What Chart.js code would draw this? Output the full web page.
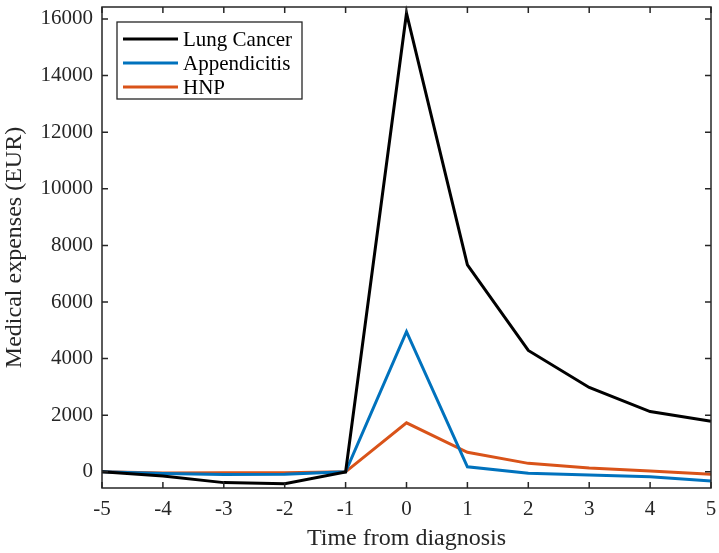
<!DOCTYPE html>
<html lang="en">
<head>
    <meta charset="UTF-8">
    <title>Medical expenses around diagnosis</title>
    <script src="https://cdn.jsdelivr.net/npm/chart.js"></script>
    <style>
        html, body { margin: 0; padding: 0; background: #fff; }
        #wrap { width: 719px; height: 553px; }
    </style>
</head>
<body>
    <div id="wrap"><canvas id="chart" width="719" height="553"></canvas></div>

    <script>
        // data
        const years = [-5, -4, -3, -2, -1, 0, 1, 2, 3, 4, 5];
        const lungCancer = [0, -150, -380, -420, 0, 16200, 7310, 4290, 2980, 2130, 1790];
        const appendicitis = [0, -60, -90, -80, 0, 4950, 180, -50, -110, -170, -320];
        const hnp = [0, -40, -30, -30, 0, 1730, 690, 300, 140, 30, -80];
        const seriesNames = ['Lung Cancer', 'Appendicitis', 'HNP'];
        const seriesColors = ['#000000', '#0072BD', '#D95319'];
        const xTicks = [-5, -4, -3, -2, -1, 0, 1, 2, 3, 4, 5];
        const yTicks = [0, 2000, 4000, 6000, 8000, 10000, 12000, 14000, 16000];

        const serif = '"Liberation Serif", "Times New Roman", serif';
        const axisColor = '#262626';

        function toPoints(vals) {
            return years.map((x, i) => ({ x: x, y: vals[i] }));
        }

        // matlab-like box, inward ticks and legend inside the axes
        const matlabBox = {
            id: 'matlabBox',
            afterDraw(chart) {
                const ctx = chart.ctx;
                const a = chart.chartArea;
                const xs = chart.scales.x, ys = chart.scales.y;
                const len = 6;
                ctx.save();
                ctx.strokeStyle = axisColor;
                ctx.lineWidth = 1.5;
                ctx.strokeRect(a.left, a.top, a.right - a.left, a.bottom - a.top);
                ctx.beginPath();
                xTicks.forEach(v => {
                    const px = xs.getPixelForValue(v);
                    ctx.moveTo(px, a.bottom); ctx.lineTo(px, a.bottom - len);
                    ctx.moveTo(px, a.top); ctx.lineTo(px, a.top + len);
                });
                yTicks.forEach(v => {
                    const py = ys.getPixelForValue(v);
                    ctx.moveTo(a.left, py); ctx.lineTo(a.left + len, py);
                    ctx.moveTo(a.right, py); ctx.lineTo(a.right - len, py);
                });
                ctx.stroke();

                // legend
                const lx = a.left + 15, ly = a.top + 15;
                const lw = 185, lh = 77;
                ctx.fillStyle = '#fff';
                ctx.fillRect(lx, ly, lw, lh);
                ctx.strokeStyle = axisColor;
                ctx.lineWidth = 1.3;
                ctx.strokeRect(lx, ly, lw, lh);
                ctx.font = '21px ' + serif;
                ctx.textBaseline = 'middle';
                chart.data.datasets.forEach((ds, i) => {
                    const cy = ly + 17 + i * 24;
                    ctx.strokeStyle = ds.borderColor;
                    ctx.lineWidth = 3;
                    ctx.beginPath();
                    ctx.moveTo(lx + 6, cy);
                    ctx.lineTo(lx + 61, cy);
                    ctx.stroke();
                    ctx.fillStyle = '#000';
                    ctx.fillText(ds.label, lx + 66, cy + 1);
                });
                ctx.restore();
            }
        };

        const datasets = [lungCancer, appendicitis, hnp].map((vals, i) => ({
            label: seriesNames[i],
            data: toPoints(vals),
            borderColor: seriesColors[i],
            backgroundColor: seriesColors[i],
            borderWidth: 3,
            pointRadius: 0,
            tension: 0,
            fill: false
        }));

        new Chart(document.getElementById('chart'), {
            type: 'line',
            data: { datasets: datasets },
            plugins: [matlabBox],
            options: {
                responsive: false,
                animation: false,
                clip: false,
                layout: { padding: { top: 7, right: 8, left: 0, bottom: 0 } },
                plugins: { legend: { display: false }, tooltip: { enabled: false } },
                scales: {
                    x: {
                        type: 'linear',
                        min: -5,
                        max: 5,
                        afterBuildTicks: s => { s.ticks = xTicks.map(v => ({ value: v })); },
                        afterFit: s => { s.height = 65; s.paddingLeft = 0; s.paddingRight = 0; },
                        grid: { display: false, drawTicks: false },
                        border: { display: false },
                        ticks: { color: '#262626', font: { family: serif, size: 21 }, padding: 9, maxRotation: 0, callback: v => String(v) },
                        title: { display: true, text: 'Time from diagnosis', color: '#262626', font: { family: serif, size: 24 }, padding: { top: 0, bottom: 0 } }
                    },
                    y: {
                        min: -570,
                        max: 16420,
                        afterBuildTicks: s => { s.ticks = yTicks.map(v => ({ value: v })); },
                        afterFit: s => { s.width = 102; s.paddingTop = 0; s.paddingBottom = 0; },
                        grid: { display: false, drawTicks: false },
                        border: { display: false },
                        ticks: { color: '#262626', font: { family: serif, size: 21 }, padding: 9, callback: v => String(v) },
                        title: { display: true, text: 'Medical expenses (EUR)', color: '#262626', font: { family: serif, size: 24 }, padding: { top: 0, bottom: 4 } }
                    }
                }
            }
        });
    </script>
</body>
</html>
